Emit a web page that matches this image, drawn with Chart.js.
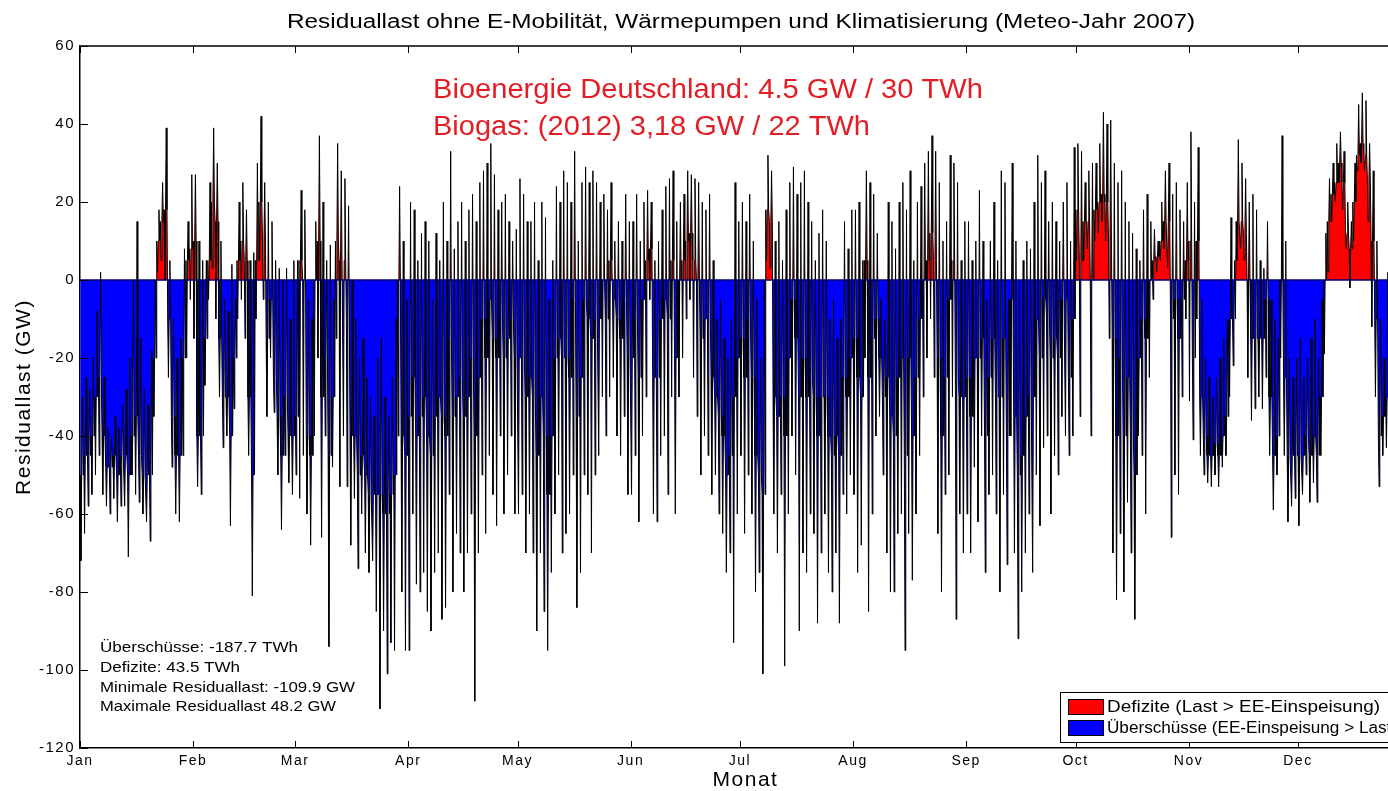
<!DOCTYPE html>
<html>
<head>
<meta charset="utf-8">
<script src="https://cdn.jsdelivr.net/npm/chart.js@4.4.0/dist/chart.umd.min.js"></script>
<style>
html, body { margin: 0; padding: 0; background: #fff; overflow: hidden; }
#wrap { position: relative; width: 1482px; height: 791px; }
</style>
</head>
<body>
<div id="wrap"><canvas id="chart"></canvas></div>
<script>
const monthLabels = ['Jan', 'Feb', 'Mar', 'Apr', 'May', 'Jun', 'Jul', 'Aug', 'Sep', 'Oct', 'Nov', 'Dec'];
const monthStarts = [0, 31, 59, 90, 120, 151, 181, 212, 243, 273, 304, 334];
const yTicks = [-120, -100, -80, -60, -40, -20, 0, 20, 40, 60];

// residual load per day in GW: daily max, typical level, daily min
const janMax = [-30, -25, -28, -20, -8, 2, -25, -38, -40, -35, -38, -32, -28, -20, 0, 15, -15, -28, -32, -18, 0, 18, 25, 39, 5, -10, -20, -15, 8, 15, 27];
const janTyp = [-50, -45, -45, -40, -30, -25, -40, -48, -48, -45, -50, -45, -45, -50, -40, -35, -45, -50, -50, -50, -20, 10, 15, 18, -10, -35, -45, -45, -20, 5, 8];
const janMin = [-72, -65, -58, -55, -50, -45, -55, -58, -60, -56, -62, -58, -58, -71, -50, -55, -57, -60, -62, -67, -35, 2, 5, 0, -25, -48, -60, -62, -45, -20, -5];
const febMax = [27, 10, 5, 5, 25, 39, 30, 10, -5, -8, 4, -5, 20, 25, 18, 5, 7, 30, 42, 25, 20, 15, 5, 3, 0, 3, -10, 5];
const febTyp = [10, -40, -40, -15, 5, 20, 15, -15, -30, -30, -40, -20, 5, 10, 5, -30, -50, 5, 20, 10, -15, -5, -25, -35, -45, -30, -40, -40];
const febMin = [-15, -53, -55, -27, -5, 3, -10, -30, -43, -40, -63, -33, -10, -5, -15, -45, -81, -10, 5, -5, -35, -20, -34, -50, -64, -45, -52, -55];
const marMax = [5, 23, 18, -5, -10, 15, 37, 20, 5, 9, -5, 35, 28, 26, 19, 0, -10, -20, -15, -25, -30, -35, -20, -15, -30, -35, -25, -10, 24, 10, -5];
const marTyp = [-35, 5, 0, -40, -45, 0, 10, -30, -20, -45, -30, 10, 5, 5, -10, -40, -40, -50, -45, -50, -55, -55, -55, -55, -60, -60, -55, -50, 0, -40, -45];
const marMin = [-50, -56, -45, -60, -68, -40, -20, -66, -40, -94, -48, -15, -53, -40, -53, -68, -56, -74, -60, -70, -75, -72, -85, -110, -90, -101, -93, -95, -40, -80, -95];
const aprMax = [20, 18, 5, 12, 15, 10, -5, 12, 5, 20, 10, 33, 8, 15, 20, 10, 18, 22, 15, 25, 28, 30, 35, 27, 18, 20, 22, 15, 10, 13];
const aprTyp = [-35, -25, -40, -35, -30, -40, -45, -35, -30, -35, -40, -15, -35, -30, -25, -35, -30, -20, -40, -25, -10, -20, -5, -15, -20, -10, -20, -15, -10, -20];
const aprMin = [-95, -60, -78, -80, -75, -85, -90, -75, -70, -87, -84, -55, -80, -65, -70, -80, -70, -60, -108, -70, -50, -65, -45, -55, -63, -40, -60, -50, -40, -60];
const mayMax = [26, 22, 15, 15, 20, 5, 20, 16, -5, 5, 24, 20, 28, 25, 20, 33, 10, 25, 29, 25, 28, 25, 20, 22, 18, 25, 10, 15, 10, 22, 15];
const mayTyp = [-20, -20, -30, -25, -30, -45, -30, -40, -55, -40, -20, -15, -20, -20, -25, -5, -35, -25, -5, -10, -15, -10, -10, 0, -10, 5, -5, -10, -15, -5, -20];
const mayMin = [-60, -55, -70, -60, -70, -90, -70, -85, -95, -75, -60, -50, -70, -65, -60, -50, -84, -75, -50, -55, -70, -50, -45, -30, -40, -30, -25, -40, -45, -35, -55];
const junMax = [15, 22, 10, 20, 23, 20, 5, 10, 18, 24, 26, 28, 15, 20, 22, 28, 27, 26, 25, 20, 18, 22, 5, -10, -5, -15, -20, -10, 25, 15];
const junTyp = [-20, -10, -25, -5, 5, 8, -25, -25, -10, -5, -10, 5, -20, 0, 5, 10, 12, 5, 0, -15, -10, -10, -25, -30, -35, -40, -50, -45, -30, -20];
const junMin = [-55, -45, -62, -40, -30, -5, -60, -62, -45, -40, -55, -30, -60, -30, -20, -10, -5, -25, -35, -50, -40, -45, -55, -50, -60, -65, -75, -70, -93, -60];
const julMax = [20, 15, 22, 10, -5, -20, 0, 32, 28, 10, 15, 5, 18, 25, 29, 22, 25, 28, 20, 15, 5, 12, 18, 10, -10, -5, -15, -10, 15, 8, 18];
const julTyp = [-15, -25, -10, -25, -45, -50, -55, 18, 15, -30, -35, -30, -40, -20, -5, -15, -30, -20, -30, -25, -30, -40, -30, -30, -40, -45, -40, -45, -25, -30, -20];
const julMin = [-45, -65, -50, -60, -80, -75, -101, 5, 3, -60, -70, -55, -99, -60, -40, -50, -90, -70, -75, -60, -65, -88, -70, -60, -75, -80, -70, -88, -55, -60, -50];
const augMax = [18, 20, 5, 28, 25, 22, 12, -5, -10, 20, 15, 8, 20, 25, 18, 28, 5, 20, 24, 30, 33, 37, 33, 25, 10, 15, 32, 30, 25, 5, 15];
const augTyp = [-15, -25, -30, 5, -25, -15, -10, -20, -30, -25, -35, -40, -25, -20, -45, -20, -40, -25, -10, 0, 5, 12, 5, -20, -40, -25, -5, 5, -25, -30, -30];
const augMin = [-55, -75, -68, -20, -85, -60, -40, -35, -50, -70, -80, -80, -65, -60, -95, -65, -77, -60, -45, -30, -20, -10, -25, -65, -80, -55, -50, -30, -87, -60, -70];
const sepMax = [15, 5, 10, 23, 10, -5, 10, 20, 5, 28, 25, -5, 30, 10, 0, 5, 10, 8, 20, 32, 25, 28, 15, 20, 15, 10, 20, 25, 10, 34];
const sepTyp = [-25, -35, -20, -20, -15, -40, -25, -15, -30, -30, -15, -40, -5, -35, -50, -45, -35, -30, -30, -10, -20, -5, -10, -20, -15, -20, -5, -5, -25, -10];
const sepMin = [-60, -70, -48, -62, -40, -75, -55, -50, -60, -80, -55, -73, -40, -70, -92, -80, -70, -60, -75, -50, -63, -43, -40, -60, -45, -50, -35, -40, -45, -40];
const octMax = [35, 33, 25, 28, 30, 30, 35, 43, 40, 41, 30, 25, 28, 20, 15, 12, 8, 5, 18, 22, 15, 13, 10, 20, 28, 30, 22, 25, 18, 15, 25];
const octTyp = [18, 5, 15, 15, 0, 18, 20, 22, 20, 10, -15, -40, -20, -40, -25, -40, -50, -20, -10, -15, 0, 5, 6, 10, 15, 15, -10, -5, -15, -5, 5];
const octMin = [5, -35, 5, 8, -40, 10, 12, 15, 10, -15, -70, -82, -65, -80, -57, -70, -87, -40, -45, -60, -25, -5, 2, 5, 8, 3, -66, -50, -55, -30, -10];
const novMax = [38, 20, 34, -5, -20, -25, -30, -25, -20, -15, -10, 16, 5, 36, 30, 26, 20, 22, 18, 5, 3, 15, -5, -10, -15, 37, 10, -20, -25, -20];
const novTyp = [10, -20, 10, -30, -40, -45, -45, -42, -45, -40, -35, -10, -10, 15, 15, 12, 0, -15, -15, -15, -15, -5, -30, -45, -40, 0, -25, -45, -45, -45];
const novMin = [-31, -41, -10, -45, -50, -52, -53, -50, -53, -48, -45, -30, -22, 5, 8, 5, -25, -36, -33, -30, -33, -25, -45, -59, -50, -20, -45, -62, -58, -56];
const decMax = [-15, -25, -20, -15, -10, -20, -5, 12, 26, 30, 35, 38, 33, 20, 15, 30, 45, 48, 46, 35, 28, 10, -10, -20, 2, -10, -5, 0, -10, -5, -10];
const decTyp = [-45, -45, -40, -45, -40, -45, -30, 0, 15, 22, 25, 30, 25, 12, 8, 20, 32, 35, 32, 25, 10, -10, -40, -35, -30, -30, -25, -20, -30, -30, -35];
const decMin = [-63, -55, -50, -57, -52, -57, -45, -19, 2, 15, 20, 25, 18, 8, -2, 10, 28, 30, 28, 15, -12, -30, -53, -45, -43, -40, -35, -30, -45, -40, -50];

const dailyMax = [].concat(janMax, febMax, marMax, aprMax, mayMax, junMax, julMax, augMax, sepMax, octMax, novMax, decMax);
const dailyTyp = [].concat(janTyp, febTyp, marTyp, aprTyp, mayTyp, junTyp, julTyp, augTyp, sepTyp, octTyp, novTyp, decTyp);
const dailyMin = [].concat(janMin, febMin, marMin, aprMin, mayMin, junMin, julMin, augMin, sepMin, octMin, novMin, decMin);

// each day: typical level with a short dip to the minimum and a short peak to the maximum
const points = [];
dailyTyp.forEach((typ, d) => {
    points.push({ x: d + 0.05, y: typ });
    points.push({ x: d + 0.25, y: dailyMin[d] });
    points.push({ x: d + 0.45, y: typ });
    points.push({ x: d + 0.65, y: dailyMax[d] });
    points.push({ x: d + 0.85, y: typ });
});

const FONT = "'Liberation Sans', Arial, sans-serif";

// the original figure is stretched sideways, so its texts are wider than the font
function wideText(ctx, text, x, y, font, width, align) {
    ctx.font = font;
    ctx.letterSpacing = '0px';
    const w = ctx.measureText(text).width;
    const left = align === 'center' ? x - width / 2 : x;
    ctx.save();
    ctx.translate(left, y);
    ctx.scale(width / w, 1);
    ctx.textAlign = 'left';
    ctx.fillText(text, 0, 0);
    ctx.restore();
}

const boxTicks = {
    id: 'boxTicks',
    beforeDraw(chart) {
        chart.ctx.letterSpacing = '1.5px';
    },
    afterDatasetsDraw(chart) {
        const { ctx, chartArea: a, scales: { x, y } } = chart;
        ctx.save();
        ctx.strokeStyle = '#000';
        ctx.lineWidth = 1;
        ctx.beginPath();
        monthStarts.forEach(m => {
            const px = Math.round(x.getPixelForValue(m)) + 0.5;
            ctx.moveTo(px, a.bottom); ctx.lineTo(px, a.bottom - 7);
            ctx.moveTo(px, a.top); ctx.lineTo(px, a.top + 7);
        });
        yTicks.forEach(v => {
            const py = Math.round(y.getPixelForValue(v)) + 0.5;
            ctx.moveTo(a.left, py); ctx.lineTo(a.left + 8, py);
            ctx.moveTo(a.right, py); ctx.lineTo(a.right - 8, py);
        });
        ctx.stroke();
        ctx.lineWidth = 1.5;
        ctx.beginPath();
        ctx.moveTo(a.left, a.top); ctx.lineTo(a.right, a.top);
        ctx.moveTo(a.right, a.top); ctx.lineTo(a.right, a.bottom);
        ctx.stroke();

        ctx.textBaseline = 'middle';

        // title
        ctx.fillStyle = '#000';
        wideText(ctx, 'Residuallast ohne E-Mobilität, Wärmepumpen und Klimatisierung (Meteo-Jahr 2007)',
            741, 22, '20px ' + FONT, 908, 'center');

        // notes
        ctx.fillStyle = 'rgb(228, 28, 36)';
        wideText(ctx, 'Bioenergie Deutschland: 4.5 GW / 30 TWh', 433, 91, '27px ' + FONT, 550);
        wideText(ctx, 'Biogas: (2012) 3,18 GW / 22 TWh', 433, 128, '27px ' + FONT, 437);

        ctx.fillStyle = '#000';
        wideText(ctx, 'Überschüsse: -187.7 TWh', 100, 648, '15px ' + FONT, 198);
        wideText(ctx, 'Defizite: 43.5 TWh', 100, 668, '15px ' + FONT, 140);
        wideText(ctx, 'Minimale Residuallast: -109.9 GW', 100, 688, '15px ' + FONT, 255);
        wideText(ctx, 'Maximale Residuallast 48.2 GW', 100, 707, '15px ' + FONT, 236);

        // legend
        const lx = 1060, ly = 692;
        ctx.fillStyle = '#fff';
        ctx.fillRect(lx, ly, 360, 50);
        ctx.strokeStyle = '#000';
        ctx.lineWidth = 1;
        ctx.strokeRect(lx + 0.5, ly + 0.5, 360, 50);
        const ds = chart.data.datasets[1];
        ctx.fillStyle = ds.fill.above;
        ctx.fillRect(lx + 8, ly + 7, 35, 15);
        ctx.strokeRect(lx + 8.5, ly + 7.5, 35, 15);
        ctx.fillStyle = ds.fill.below;
        ctx.fillRect(lx + 8, ly + 28, 35, 15);
        ctx.strokeRect(lx + 8.5, ly + 28.5, 35, 15);
        ctx.fillStyle = '#000';
        wideText(ctx, 'Defizite (Last > EE-Einspeisung)', lx + 47, ly + 16, '16px ' + FONT, 273);
        wideText(ctx, 'Überschüsse (EE-Einspeisung > Last)', lx + 47, ly + 37, '16px ' + FONT, 290);
        ctx.restore();
    }
};

new Chart(document.getElementById('chart'), {
    type: 'line',
    data: {
        datasets: [{
            label: 'Null',
            data: [{ x: 0, y: 0 }, { x: 365, y: 0 }],
            borderColor: '#00006e',
            borderWidth: 1.5,
            pointRadius: 0,
            fill: false
        }, {
            label: 'Residuallast',
            data: points,
            borderColor: '#000',
            borderWidth: 1,
            pointRadius: 0,
            tension: 0,
            fill: { target: 'origin', above: '#ff0000', below: '#0000ff' }
        }]
    },
    options: {
        responsive: true,
        maintainAspectRatio: false,
        animation: false,
        layout: { padding: { left: 0, right: 71, top: 46, bottom: 0 } },
        plugins: {
            legend: { display: false },
            tooltip: { enabled: false },
            title: { display: false }
        },
        scales: {
            x: {
                type: 'linear',
                min: 0,
                max: 365,
                afterBuildTicks: s => { s.ticks = monthStarts.map(v => ({ value: v })); },
                afterFit: s => { s.height = 43; },
                ticks: {
                    autoSkip: false,
                    maxRotation: 0,
                    padding: 5,
                    color: '#000',
                    font: { family: FONT, size: 14 },
                    callback: v => monthLabels[monthStarts.indexOf(v)]
                },
                grid: { drawOnChartArea: false, drawTicks: false },
                border: { color: '#000', width: 1.5 },
                title: { display: true, text: 'Monat', color: '#000', font: { family: FONT, size: 21, lineHeight: 1 }, padding: 0 }
            },
            y: {
                min: -120,
                max: 60,
                afterFit: s => { s.width = 80; },
                ticks: { stepSize: 20, padding: 5, color: '#000', font: { family: FONT, size: 15 } },
                grid: { drawOnChartArea: false, drawTicks: false },
                border: { color: '#000', width: 1.5 },
                title: { display: true, text: 'Residuallast (GW)', color: '#000', font: { family: FONT, size: 21 }, padding: { top: 12, bottom: 0 } }
            }
        }
    },
    plugins: [boxTicks]
});
</script>
</body>
</html>
